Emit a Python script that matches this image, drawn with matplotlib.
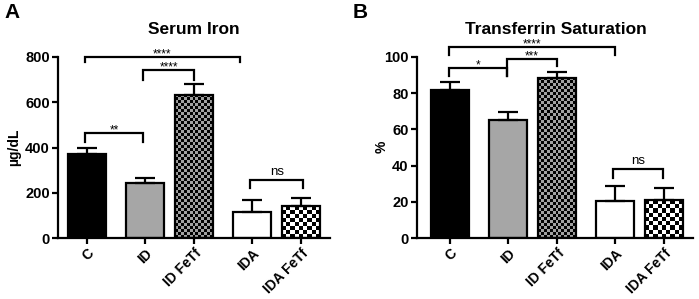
import numpy as np
import matplotlib
matplotlib.use("Agg")
import matplotlib.pyplot as plt
from matplotlib.colors import ListedColormap

plt.rcParams["font.family"] = ["Liberation Sans", "DejaVu Sans"]
plt.rcParams["font.weight"] = "bold"

groups    = ["C", "ID", "ID FeTf", "IDA", "IDA FeTf"]
positions = [0, 1.2, 2.2, 3.4, 4.4]

iron_mean = [372, 245, 633, 117, 141]
iron_err  = [26, 19, 48, 51, 37]

tsat_mean = [81.9, 65.0, 88.4, 20.5, 20.8]
tsat_err  = [4.2, 4.6, 3.3, 8.5, 6.7]

# (label, x1, x2, bar top, left arm bottom, right arm bottom)
iron_brackets = [
    ("****", -0.05, 3.15, 800, 779, 779),
    ("****", 1.15, 2.2, 743, 699, 699),
    ("**", -0.04, 1.15, 465, 425, 425),
    ("ns", 3.36, 4.45, 257, 221, 221),
]
tsat_brackets = [
    ("****", -0.02, 3.4, 105.8, 101.2, 101.2),
    ("***", 1.18, 2.2, 99.0, 89.4, 94.8),
    ("*", -0.02, 1.18, 93.9, 89.4, 89.4),
    ("ns", 3.36, 4.39, 38.0, 33.0, 33.0),
]

W, H = 699, 299


def checker_fill(ax, bar, cell_px, c1, c2):
    bb = bar.get_bbox()
    (px0, py0), (px1, py1) = ax.transData.transform([(bb.x0, bb.y0), (bb.x1, bb.y1)])
    ncols = max(1, int(round(abs(px1 - px0) / cell_px)))
    nrows = max(1, int(round(abs(py1 - py0) / cell_px)))
    arr = np.indices((nrows, ncols)).sum(axis=0) % 2
    im = ax.imshow(arr, extent=(bb.x0, bb.x1, bb.y0, bb.y1), origin="lower",
                   cmap=ListedColormap([c1, c2]), interpolation="nearest",
                   aspect="auto", zorder=1.5)
    im.set_clip_path(bar)


def draw_panel(rect, means, errs, ylim, yticks, xlim, brackets):
    ax = plt.gcf().add_axes(rect)
    ax.set_xlim(*xlim)
    ax.set_ylim(*ylim)

    faces = ["black", "#a6a6a6", "none", "white", "none"]
    bars = ax.bar(positions, means, width=0.78, color=faces,
                  edgecolor="black", linewidth=1.6, zorder=2)
    checker_fill(ax, bars[2], 3.0, "black", "#a0a0a0")
    checker_fill(ax, bars[4], 4.0, "black", "white")

    ax.errorbar(positions, means, yerr=[np.zeros(len(means)), errs], fmt="none",
                ecolor="black", elinewidth=1.6, capsize=7, capthick=1.6, zorder=3)

    span = ylim[1] - ylim[0]
    for lab, x1, x2, y, yl, yr in brackets:
        ax.plot([x1, x1, x2, x2], [yl, y, y, yr], color="black", lw=1.6,
                clip_on=False, solid_joinstyle="miter", zorder=4)
        if lab == "ns":
            ax.text((x1 + x2) / 2, y + span * 0.01, lab, ha="center", va="bottom",
                    fontsize=9.5, fontweight="normal")
        else:
            ax.text((x1 + x2) / 2, y - span * 0.02, lab, ha="center", va="bottom",
                    fontsize=8.5, fontweight="normal")

    ax.set_xlim(*xlim)
    ax.set_ylim(*ylim)
    ax.set_yticks(yticks)
    ax.set_xticks(positions)
    ax.set_xticklabels(groups, rotation=45, ha="right", rotation_mode="anchor",
                       fontsize=10, fontweight="bold")
    for t in ax.get_yticklabels():
        t.set_fontsize(10.5)
        t.set_fontweight("bold")
    ax.tick_params(width=1.6, length=4, pad=2)
    for s in ["top", "right"]:
        ax.spines[s].set_visible(False)
    ax.spines["left"].set_linewidth(1.6)
    ax.spines["bottom"].set_linewidth(1.6)
    ax.spines["left"].set_bounds(ylim[0], ylim[1])
    return ax


fig = plt.figure(figsize=(W / 100, H / 100), dpi=100)

axA = draw_panel([58 / W, (H - 238) / H, 272 / W, 181 / H], iron_mean, iron_err,
                 (0, 800), [0, 200, 400, 600, 800], (-0.6, 5.0), iron_brackets)
axB = draw_panel([417 / W, (H - 238) / H, 276 / W, 181 / H], tsat_mean, tsat_err,
                 (0, 100), [0, 20, 40, 60, 80, 100], (-0.68, 5.0), tsat_brackets)

fig.text(194 / W, 1 - 30 / H, "Serum Iron", ha="center", va="center",
         fontsize=12.5, fontweight="bold")
fig.text(556 / W, 1 - 30 / H, "Transferrin Saturation", ha="center", va="center",
         fontsize=12.5, fontweight="bold")
fig.text(14 / W, 1 - 147 / H, "µg/dL", rotation=90, ha="center", va="center",
         fontsize=10, fontweight="bold")
fig.text(382 / W, 1 - 147 / H, "%", rotation=90, ha="center", va="center",
         fontsize=10, fontweight="bold")
fig.text(4 / W, 1 - 3 / H, "A", ha="left", va="top", fontsize=15, fontweight="bold")
fig.text(353 / W, 1 - 3 / H, "B", ha="left", va="top", fontsize=15, fontweight="bold")

fig.savefig("out.png", dpi=100)
